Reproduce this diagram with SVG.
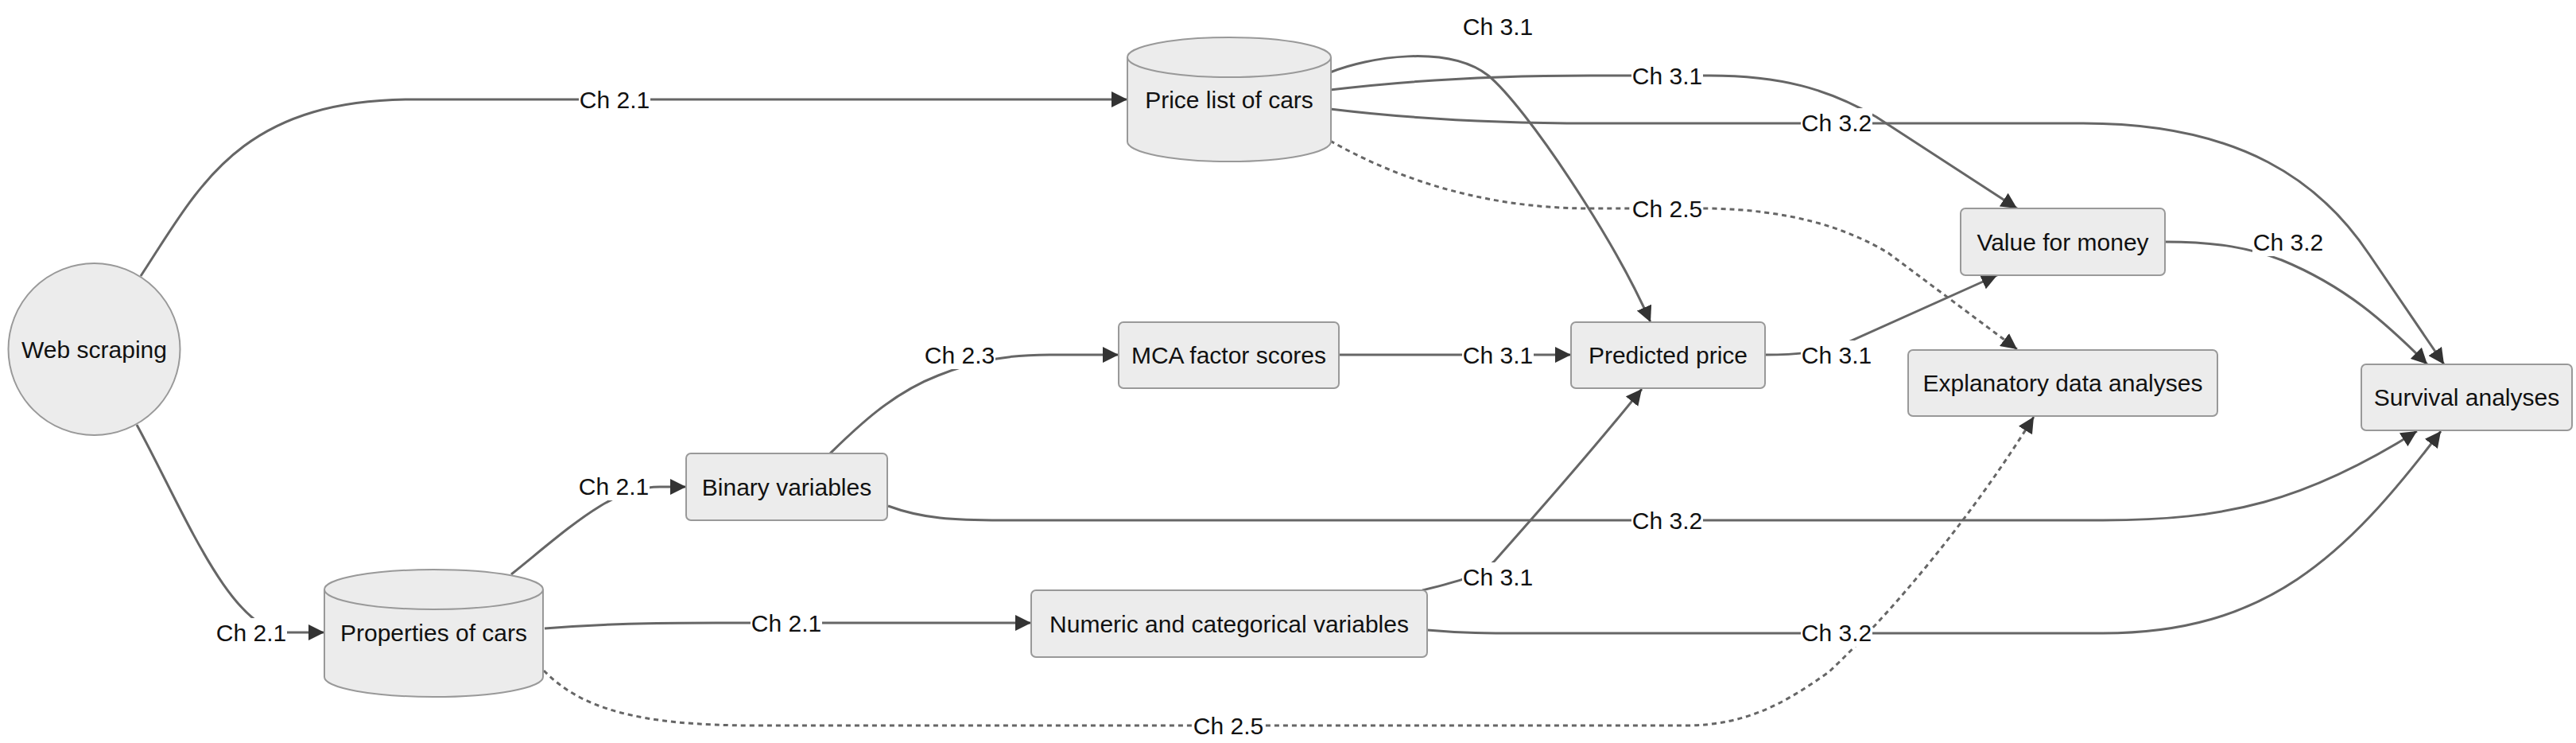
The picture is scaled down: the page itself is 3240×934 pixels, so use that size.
<svg xmlns="http://www.w3.org/2000/svg" width="3240" height="934" viewBox="0 0 3240 934">
<defs>
<style>
.node rect, .node path, .node circle { fill:#ececec; stroke:#999; stroke-width:2; }
.node text { font-family:"Liberation Sans", Arial, sans-serif; font-size:30px; fill:#111; text-anchor:middle; }
.edge { fill:none; stroke:#666; stroke-width:3; marker-end:url(#arrow); }
.dotted { stroke-dasharray:6 5; stroke-width:3; }
.elabel rect { fill:#fff; }
.elabel text { font-family:"Liberation Sans", Arial, sans-serif; font-size:30px; fill:#111; text-anchor:middle; }
</style>
<marker id="arrow" viewBox="0 0 10 10" refX="10" refY="5" markerUnits="userSpaceOnUse" markerWidth="20" markerHeight="20" orient="auto">
<path d="M0,0 L10,5 L0,10 z" fill="#333"/>
</marker>
</defs>
<rect x="0" y="0" width="3240" height="934" fill="#fff"/>

<g id="connectors">
<path class="edge" d="M177,347 C250,236 300,125 520,125 L1418,125"/>
<path class="edge" d="M172,534 C230,640 290,795 360,795 L408,795"/>
<path class="edge" d="M643,722 C720,660 770,612 830,612 L863,612"/>
<path class="edge" d="M685,790 C760,784 820,783 900,783 L1297,783"/>
<path class="edge dotted" d="M684,843 C730,890 800,912 950,912 L2120,912 C2200,912 2250,880 2300,845 C2380,770 2480,650 2558,524"/>
<path class="edge" d="M1044,570 C1075,540 1120,495 1180,472 C1230,452 1270,446 1320,446 L1407,446"/>
<path class="edge" d="M1117,636 C1160,652 1200,654 1260,654 L2645,654 C2800,654 2900,630 3040,542"/>
<path class="edge" d="M1789,742 C1830,732 1860,725 1880,705 C1920,660 2000,570 2065,489"/>
<path class="edge" d="M1684,446 L1976,446"/>
<path class="edge" d="M1673,91 C1720,72 1820,55 1872,95 C1920,135 2030,300 2076,405"/>
<path class="edge" d="M1673,113 C1780,100 1900,95 2000,95 L2150,95 C2240,95 2300,112 2360,147 L2537,262"/>
<path class="edge" d="M1673,137 C1780,150 1880,155 2000,155 L2620,155 C2820,155 2920,230 2980,320 L3074,458"/>
<path class="edge dotted" d="M1673,177 C1740,215 1850,262 2000,262 L2150,262 C2250,264 2320,285 2375,318 L2537,439"/>
<path class="edge" d="M2220,446 C2260,446 2290,443 2320,432 L2512,346"/>
<path class="edge" d="M2723,304 C2790,304 2830,312 2870,327 C2950,360 3000,405 3053,458"/>
<path class="edge" d="M1795,792 C1840,796 1870,796 1920,796 L2645,796 C2850,796 2950,700 3070,542"/>
<g id="edge-labels">
<g class="elabel"><rect x="728" y="107" width="90" height="36"/><text x="773" y="135.5">Ch 2.1</text></g>
<g class="elabel"><rect x="271" y="777" width="90" height="36"/><text x="316" y="805.5">Ch 2.1</text></g>
<g class="elabel"><rect x="727" y="593" width="90" height="36"/><text x="772" y="621.5">Ch 2.1</text></g>
<g class="elabel"><rect x="944" y="765" width="90" height="36"/><text x="989" y="793.5">Ch 2.1</text></g>
<g class="elabel"><rect x="1500" y="894" width="90" height="36"/><text x="1545" y="922.5">Ch 2.5</text></g>
<g class="elabel"><rect x="1162" y="428" width="90" height="36"/><text x="1207" y="456.5">Ch 2.3</text></g>
<g class="elabel"><rect x="2052" y="636" width="90" height="36"/><text x="2097" y="664.5">Ch 3.2</text></g>
<g class="elabel"><rect x="1839" y="707" width="90" height="36"/><text x="1884" y="735.5">Ch 3.1</text></g>
<g class="elabel"><rect x="1839" y="428" width="90" height="36"/><text x="1884" y="456.5">Ch 3.1</text></g>
<g class="elabel"><rect x="1839" y="15" width="90" height="36"/><text x="1884" y="43.5">Ch 3.1</text></g>
<g class="elabel"><rect x="2052" y="77" width="90" height="36"/><text x="2097" y="105.5">Ch 3.1</text></g>
<g class="elabel"><rect x="2265" y="136" width="90" height="36"/><text x="2310" y="164.5">Ch 3.2</text></g>
<g class="elabel"><rect x="2052" y="244" width="90" height="36"/><text x="2097" y="272.5">Ch 2.5</text></g>
<g class="elabel"><rect x="2265" y="428" width="90" height="36"/><text x="2310" y="456.5">Ch 3.1</text></g>
<g class="elabel"><rect x="2833" y="286" width="90" height="36"/><text x="2878" y="314.5">Ch 3.2</text></g>
<g class="elabel"><rect x="2265" y="777" width="90" height="36"/><text x="2310" y="805.5">Ch 3.2</text></g>
</g>
</g>

<g id="web-scraping" class="node"><circle cx="118.5" cy="439" r="108"/><text x="118.5" y="450">Web scraping</text></g>
<g id="price-list" class="node"><path d="M1418,72 a128,25 0 0,0 256,0 a128,25 0 0,0 -256,0 l0,106 a128,25 0 0,0 256,0 l0,-106"/><text x="1546" y="136">Price list of cars</text></g>
<g id="properties" class="node"><path d="M408,741 a137.5,25 0 0,0 275,0 a137.5,25 0 0,0 -275,0 l0,110 a137.5,25 0 0,0 275,0 l0,-110"/><text x="545.5" y="806">Properties of cars</text></g>
<g id="binary" class="node"><rect x="863" y="570" width="253" height="84" rx="6"/><text x="989.5" y="623">Binary variables</text></g>
<g id="mca" class="node"><rect x="1407" y="405" width="277" height="83" rx="6"/><text x="1545.5" y="457">MCA factor scores</text></g>
<g id="numeric" class="node"><rect x="1297" y="742" width="498" height="84" rx="6"/><text x="1546" y="795">Numeric and categorical variables</text></g>
<g id="predicted" class="node"><rect x="1976" y="405" width="244" height="83" rx="6"/><text x="2098" y="457">Predicted price</text></g>
<g id="value" class="node"><rect x="2466" y="262" width="257" height="84" rx="6"/><text x="2594.5" y="315">Value for money</text></g>
<g id="explanatory" class="node"><rect x="2400" y="440" width="389" height="83" rx="6"/><text x="2594.5" y="492">Explanatory data analyses</text></g>
<g id="survival" class="node"><rect x="2970" y="458" width="265" height="83" rx="6"/><text x="3102.5" y="510">Survival analyses</text></g>
</svg>
